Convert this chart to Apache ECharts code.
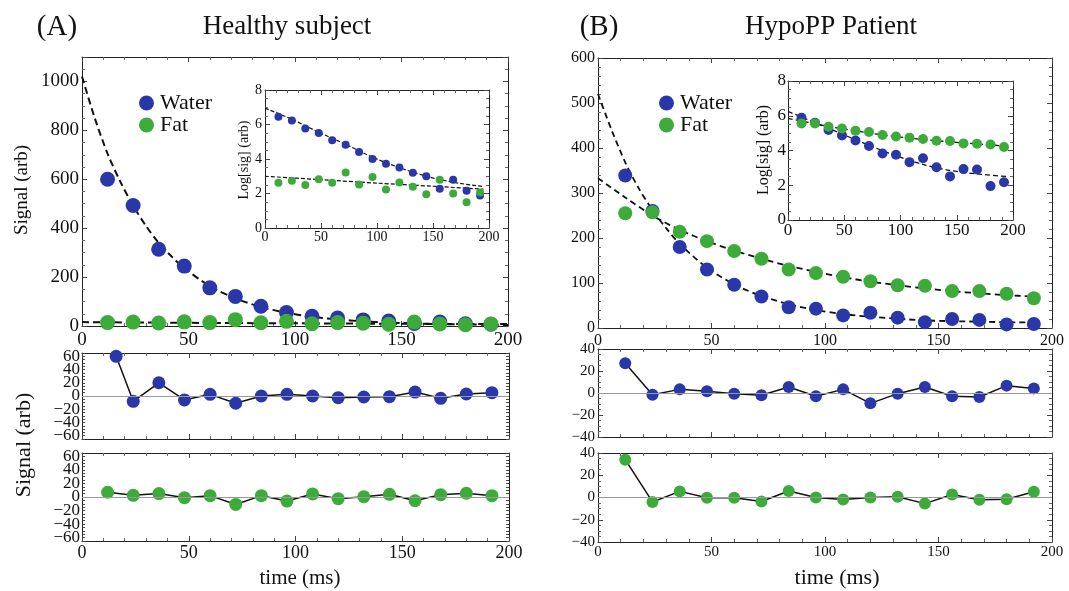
<!DOCTYPE html>
<html>
<head>
<meta charset="utf-8">
<script src="https://cdn.jsdelivr.net/npm/echarts@6/dist/echarts.min.js"></script>
<style>
html,body{margin:0;padding:0;background:#fff;}
#chart{width:1069px;height:591px;}
</style>
</head>
<body>
<div id="chart"></div>
<script>
//采样时间 (ms)
var times = [12,24,36,48,60,72,84,96,108,120,132,144,156,168,180,192];
//健康受试者残差的时间（第一个点略靠右）
var timesResA = [16,24,36,48,60,72,84,96,108,120,132,144,156,168,180,192];

//(A) 健康受试者
var healthyWater = [600,493,314,245,156,121,81,55,40,33,25,20,10,16,9,7];
var healthyFat = [14,16,12,17,14,26,13,19,9,14,11,7,16,8,5,8];
var healthyWaterFitT = [0,6,12,18,24,30,36,42,48,60,72,84,96,108,120,132,144,168,192,200];
var healthyWaterFit = [1020,850,705,590,492,410,340,285,237,163,113,78,54,38,27,19,14,8,5,4];
var healthyFatFitT = [0,50,100,150,200];
var healthyFatFit = [16,13,11,9,8];
var healthyWaterLog = [6.45,6.23,5.77,5.51,5.09,4.83,4.41,4.0,3.73,3.51,3.2,3.0,2.27,2.8,2.16,1.88];
var healthyFatLog = [2.62,2.74,2.49,2.83,2.62,3.22,2.52,2.95,2.23,2.64,2.39,1.96,2.8,2.0,1.5,2.06];
var healthyWaterLogFitT = [0,24,48,72,96,120,144,168,195];
var healthyWaterLogFit = [6.95,6.3,5.55,4.85,4.1,3.5,3.0,2.65,2.4];
var healthyFatLogFitT = [0,50,100,150,195];
var healthyFatLogFit = [3.0,2.8,2.6,2.42,2.25];
var healthyWaterRes = [60,-8,20,-6,2.5,-11,0,2.5,0,-2.5,-1.5,-1,6,-3.5,3,5];
var healthyFatRes = [7,2.5,5,-1,2,-11,2,-6,4.5,-2.5,0.5,4,-5.5,3.5,5.5,2];

//(B) HypoPP 患者
var patientWater = [339,260,180,130,96,70,46,43,28,34,23,13,20,18,8,9];
var patientFat = [255,257,214,193,171,154,130,122,114,104,95,94,82,82,76,66];
var patientWaterFitT = [0,6,12,18,24,30,36,48,60,72,84,96,108,120,144,168,192];
var patientWaterFit = [520,440,368,310,262,222,187,134,97,71,53,40,31,25,17,14,12];
var patientFatFitT = [0,12,24,36,48,60,72,84,96,108,120,132,144,156,168,180,192];
var patientFatFit = [333,290,250,218,193,172,154,138,125,113,103,95,88,82,77,73,70];
var patientWaterLog = [5.89,5.6,5.18,4.87,4.58,4.26,3.83,3.76,3.33,3.55,3.04,2.51,2.93,2.91,1.95,2.17];
var patientFatLog = [5.56,5.56,5.37,5.27,5.14,5.06,4.89,4.81,4.74,4.66,4.56,4.55,4.41,4.39,4.35,4.2];
var patientWaterLogFitT = [0,24,48,72,96,120,144,168,195];
var patientWaterLogFit = [6.25,5.6,4.95,4.3,3.7,3.2,2.85,2.65,2.5];
var patientFatLogFitT = [0,48,96,144,195];
var patientFatLogFit = [5.85,5.25,4.8,4.5,4.25];
var patientWaterRes = [27,-1.5,3.3,1.5,-0.6,-2,5.5,-3,3.3,-9.4,-0.6,5.5,-3,-3.6,6.7,4.2];
var patientFatRes = [34,-4,5.5,-0.3,-0.3,-3.6,5.8,0,-1.8,0,0.6,-5.5,2.7,-2,-1.5,5.2];

var BLUE = '#2a37a8';
var GREEN = '#3cab3a';
var FONT = 'Liberation Serif';

function pairs(xs, ys) {
    return xs.map(function (x, i) { return [x, ys[i]]; });
}

//网格（主图、插图、残差图）
var grids = [
    {left: 82, top: 57, width: 426, height: 269},
    {left: 265, top: 90, width: 224, height: 138, show: true, backgroundColor: '#fff', borderWidth: 0},
    {left: 82, top: 353, width: 427, height: 86},
    {left: 82, top: 453, width: 427, height: 88},
    {left: 598, top: 58, width: 454, height: 270},
    {left: 788, top: 81, width: 225, height: 139, show: true, backgroundColor: '#fff', borderWidth: 0},
    {left: 598, top: 349, width: 454, height: 88},
    {left: 598, top: 453, width: 454, height: 89}
];

var xAxes = [];
var yAxes = [];

//给每个网格加四边框和向内的刻度
function frame(g, xo, yo) {
    var line = {show: true, onZero: false, lineStyle: {color: '#222', width: 1}};
    var tick = {show: true, inside: true, length: 5, lineStyle: {color: '#444'}};
    var minor = function (n) { return {show: n > 0, splitNumber: n || 5, length: 3, lineStyle: {color: '#666'}}; };
    ['bottom', 'top'].forEach(function (pos) {
        xAxes.push({
            gridIndex: g, type: 'value', position: pos, min: 0, max: 200, interval: 50,
            axisLine: line, axisTick: tick, minorTick: minor(5), splitLine: {show: false},
            axisLabel: {show: pos === 'bottom' && xo.label !== false, fontFamily: FONT, fontSize: xo.fontSize || 16,
                color: '#111', margin: xo.margin || 4}
        });
    });
    ['left', 'right'].forEach(function (pos) {
        yAxes.push({
            gridIndex: g, type: 'value', position: pos, min: yo.min, max: yo.max, interval: yo.interval,
            axisLine: line, axisTick: {show: true, inside: true, length: yo.tickLen || 5, lineStyle: {color: '#444'}},
            minorTick: minor(yo.minor || 0), splitLine: {show: false},
            axisLabel: {show: pos === 'left', fontFamily: FONT, fontSize: yo.fontSize || 16, color: '#111',
                margin: yo.margin || 3, formatter: yo.formatter}
        });
    });
}

function fmtMinus(v) { return v < 0 ? '\u2212' + (-v) : String(v); }

frame(0, {fontSize: 19, margin: 5}, {min: 0, max: 1100, interval: 200, minor: 4, fontSize: 19,
    formatter: function (v) { return v > 1000 ? '' : v; }});
frame(1, {fontSize: 14, margin: 2}, {min: 0, max: 8, interval: 2, minor: 4, fontSize: 14});
frame(2, {label: false}, {min: -65, max: 65, interval: 5, tickLen: 3, fontSize: 17, margin: 2,
    formatter: function (v) { return v % 20 === 0 ? fmtMinus(v) : ''; }});
frame(3, {fontSize: 18, margin: 3}, {min: -65, max: 65, interval: 5, tickLen: 3, fontSize: 17, margin: 2,
    formatter: function (v) { return v % 20 === 0 ? fmtMinus(v) : ''; }});
frame(4, {fontSize: 16, margin: 5}, {min: 0, max: 600, interval: 100, minor: 5, fontSize: 16});
frame(5, {fontSize: 17, margin: 2}, {min: 0, max: 8, interval: 2, minor: 4, fontSize: 17, margin: 2});
frame(6, {label: false}, {min: -40, max: 40, interval: 20, minor: 4, fontSize: 15, formatter: fmtMinus});
frame(7, {fontSize: 15, margin: 3}, {min: -40, max: 40, interval: 20, minor: 4, fontSize: 15, formatter: fmtMinus});

function ax(g) { return {xAxisIndex: 2 * g, yAxisIndex: 2 * g}; }

function scatter(g, name, data, color, size) {
    return Object.assign({type: 'scatter', name: name, data: data, symbolSize: size,
        itemStyle: {color: color, opacity: 1}, z: 5}, ax(g));
}
function fit(g, data, width, dash) {
    return Object.assign({type: 'line', data: data, smooth: 0.3, showSymbol: false, symbol: 'none',
        lineStyle: {color: '#111', width: width, type: dash}, z: 4}, ax(g));
}
function resid(g, data, color, size) {
    return Object.assign({type: 'line', data: data, symbol: 'circle', symbolSize: size,
        itemStyle: {color: color}, lineStyle: {color: '#111', width: 1.5}, z: 4,
        markLine: {silent: true, symbol: 'none', label: {show: false},
            lineStyle: {color: '#999', width: 1.2, type: 'solid'}, data: [{yAxis: 0}]}}, ax(g));
}

var series = [
    fit(0, pairs(healthyWaterFitT, healthyWaterFit), 2, [7, 4]),
    fit(0, pairs(healthyFatFitT, healthyFatFit), 2, [7, 4]),
    scatter(0, 'Water', pairs(times, healthyWater), BLUE, 15),
    scatter(0, 'Fat', pairs(times, healthyFat), GREEN, 15),
    fit(1, pairs(healthyWaterLogFitT, healthyWaterLogFit), 1.2, [4, 2]),
    fit(1, pairs(healthyFatLogFitT, healthyFatLogFit), 1.2, [4, 2]),
    scatter(1, 'wl', pairs(times, healthyWaterLog), BLUE, 8),
    scatter(1, 'fl', pairs(times, healthyFatLog), GREEN, 8),
    resid(2, pairs(timesResA, healthyWaterRes), BLUE, 13),
    resid(3, pairs(times, healthyFatRes), GREEN, 13),
    fit(4, pairs(patientWaterFitT, patientWaterFit), 1.8, [6, 4]),
    fit(4, pairs(patientFatFitT, patientFatFit), 1.8, [6, 4]),
    scatter(4, 'Water', pairs(times, patientWater), BLUE, 14),
    scatter(4, 'Fat', pairs(times, patientFat), GREEN, 14),
    fit(5, pairs(patientWaterLogFitT, patientWaterLogFit), 1.3, [5, 3]),
    fit(5, pairs(patientFatLogFitT, patientFatLogFit), 1.3, [5, 3]),
    scatter(5, 'wl2', pairs(times, patientWaterLog), BLUE, 10),
    scatter(5, 'fl2', pairs(times, patientFatLog), GREEN, 10),
    resid(6, pairs(times, patientWaterRes), BLUE, 12),
    resid(7, pairs(times, patientFatRes), GREEN, 12)
];

function legendAt(left) {
    return {left: left, top: 87, orient: 'vertical', itemWidth: 15, itemHeight: 15, itemGap: 0,
        icon: 'circle', selectedMode: false, data: ['Water', 'Fat'],
        textStyle: {fontFamily: FONT, fontSize: 22, lineHeight: 22, color: '#111', padding: [0, 0, 0, 1]}};
}

function txt(x, y, s, size, rot) {
    return {type: 'text', x: x, y: y, rotation: rot || 0,
        style: {text: s, fontFamily: FONT, fontSize: size, fill: '#111', align: 'center', verticalAlign: 'middle'}};
}

var chart = echarts.init(document.getElementById('chart'));
chart.setOption({
    animation: false,
    backgroundColor: '#fff',
    grid: grids,
    xAxis: xAxes,
    yAxis: yAxes,
    legend: [legendAt(134), legendAt(654)],
    series: series,
    graphic: [
        txt(57, 27, '(A)', 29),
        txt(287, 27, 'Healthy subject', 27),
        txt(599, 27, '(B)', 29),
        txt(831, 27, 'HypoPP Patient', 27),
        txt(22, 190, 'Signal (arb)', 19, Math.PI / 2),
        txt(24, 445, 'Signal (arb)', 22, Math.PI / 2),
        txt(244, 160, 'Log[sig] (arb)', 14, Math.PI / 2),
        txt(764, 150, 'Log[sig] (arb)', 16, Math.PI / 2),
        txt(300, 578, 'time (ms)', 21),
        txt(837, 578, 'time (ms)', 22)
    ]
});
</script>
</body>
</html>
